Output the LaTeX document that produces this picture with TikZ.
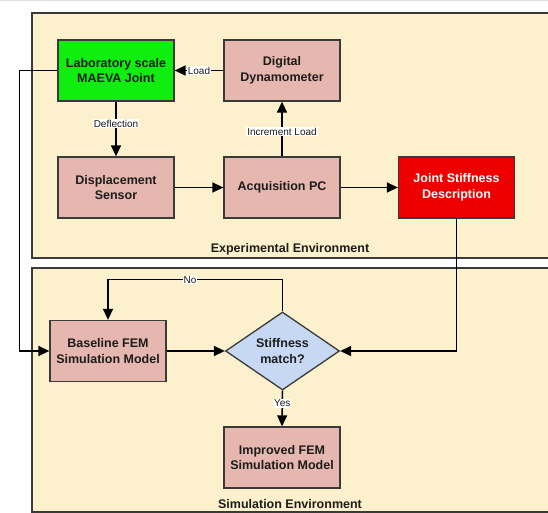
\documentclass[tikz,border=0pt]{standalone}
\usepackage{fontspec}
\setmainfont{Liberation Sans}
\usetikzlibrary{shapes.geometric,arrows.meta}
\definecolor{panelfill}{HTML}{FDF0CC}
\definecolor{pinkfill}{HTML}{E6B7AE}
\definecolor{greenfill}{HTML}{0FEE0F}
\definecolor{redfill}{HTML}{EE0000}
\definecolor{bluefill}{HTML}{C7D8F4}
\definecolor{edge}{HTML}{3A3A3A}
\definecolor{txt}{HTML}{1C1C1C}
\tikzset{
  panel/.style={draw=edge, line width=1.5pt, fill=panelfill},
  box/.style={draw=edge, line width=1.3pt, fill=pinkfill, minimum width=116pt, minimum height=61pt, inner sep=0pt, align=center, text=txt, font=\bfseries\fontsize{12.5}{15.5}\selectfont},
  decision/.style={draw=edge, line width=1.3pt, fill=bluefill, shape=diamond, aspect=1.46, minimum width=114pt, minimum height=78pt, inner sep=0pt, align=center, text=txt, font=\bfseries\fontsize{12.5}{15.5}\selectfont},
  conn/.style={draw=black, line width=1.5pt, -{Triangle[length=11pt,width=10pt]}},
  lbl/.style={fill=white, inner sep=1pt, text=txt, font=\fontsize{10}{11.5}\selectfont},
  title/.style={text=txt, font=\bfseries\fontsize{12.5}{15}\selectfont},
}
\begin{document}
\begin{tikzpicture}[x=1pt, y=-1pt]
\fill[white] (0,0) rectangle (548,513);
\clip (0,0) rectangle (548,513);
\draw[gray!25, line width=1pt] (0,1) -- (548,1);
% panels
\draw[panel] (32,13) rectangle (575,258);
\draw[panel] (32,268) rectangle (575,512);
\node[title] (exptitle) at (290,249) {Experimental Environment};
\node[title] (simtitle) at (290,504) {Simulation Environment};
% nodes
\node[box, fill=greenfill] (lab) at (116,70.5) {Laboratory scale\\MAEVA Joint};
\node[box] (dyn) at (282,70.5) {Digital\\Dynamometer};
\node[box] (disp) at (116,187.5) {Displacement\\Sensor};
\node[box] (acq) at (282,187.5) {Acquisition PC};
\node[box, fill=redfill, text=white] (joint) at (456.5,187.5) {Joint Stiffness\\Description};
\node[box] (base) at (108,351) {Baseline FEM\\Simulation Model};
\node[decision] (diam) at (282.5,351) {Stiffness\\match?};
\node[box] (imp) at (282,457.5) {Improved FEM\\Simulation Model};
% connectors
\draw[conn] (dyn) -- node[lbl] (loadlbl) {Load} (lab);
\draw[conn] (lab) -- node[lbl, pos=0.4] (deflbl) {Deflection} (disp);
\draw[conn] (acq) -- node[lbl, pos=0.45] (inclbl) {Increment Load} (dyn);
\draw[conn] (disp) -- (acq);
\draw[conn] (acq) -- (joint);
\draw[conn] (lab.west) -- ++(-38,0) |- (base.west);
\draw[conn] (joint.south) |- (diam.east);
\draw[conn] (base) -- (diam);
\draw[conn] (diam.north) -- ++(0,-32) -| (base.north);
\node[lbl] (nolbl) at (190,280) {No};
\draw[conn] (diam.south) -- node[lbl, pos=0.35] (yeslbl) {Yes} (imp.north);
\end{tikzpicture}
\end{document}
